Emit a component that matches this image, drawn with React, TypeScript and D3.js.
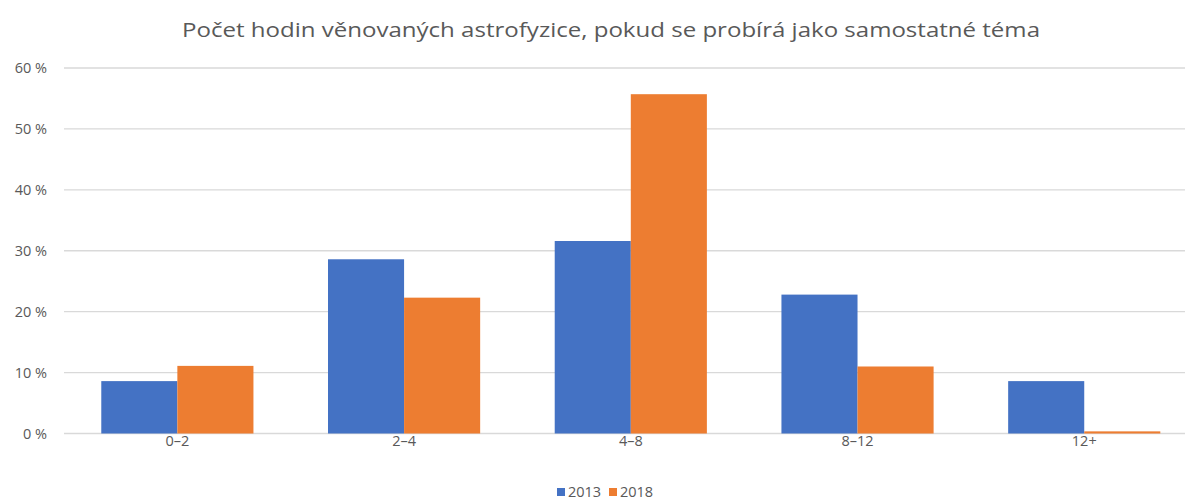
import React from 'react'
import * as d3 from 'd3'

const categories = ['0–2', '2–4', '4–8', '8–12', '12+']
const series = ['2013', '2018']
const values2013 = [8.6, 28.6, 31.6, 22.8, 8.6]
const values2018 = [11.1, 22.3, 55.7, 11.0, 0.35]
const yTicks = [0, 10, 20, 30, 40, 50, 60]
const colors = ['#4472c4', '#ed7d31']

const W = 1185
const H = 501
const margin = { top: 68, bottom: 433.5, left: 64, right: 1197.6 }

export default function App() {
	const x = d3.scaleBand().domain(categories).range([margin.left, margin.right]).paddingInner(0).paddingOuter(0)
	const inner = d3.scaleBand().domain(series).range([0, x.bandwidth()]).paddingInner(0).paddingOuter(0.49)
	const y = d3.scaleLinear().domain([0, 60]).range([margin.bottom, margin.top])
	const data = [values2013, values2018]
	const font = '"Open Sans", sans-serif'

	return (
		<svg width={W} height={H} style={{ display: 'block', position: 'absolute', left: 0, top: 0, background: '#fff' }} fontFamily={font}>
			<text x={611} y={37} textAnchor="middle" fontSize={20.5} fill="#595959" textLength={858} lengthAdjust="spacingAndGlyphs">
				Počet hodin věnovaných astrofyzice, pokud se probírá jako samostatné téma
			</text>
			{yTicks.map(t => (
				<g key={t}>
					<line x1={margin.left} x2={W} y1={y(t)} y2={y(t)} stroke="#d9d9d9" strokeWidth={1.3} />
					<text x={47} y={y(t) + 5} textAnchor="end" fontSize={14.5} fill="#595959">{t} %</text>
				</g>
			))}
			{categories.map((c, i) => (
				<g key={c}>
					{series.map((s, j) => {
						const v = data[j][i]
						return (
							<rect key={s}
								x={(x(c) as number) + (inner(s) as number)}
								y={y(v)}
								width={inner.bandwidth()}
								height={y(0) - y(v)}
								fill={colors[j]} />
						)
					})}
					<text x={(x(c) as number) + x.bandwidth() / 2} y={446} textAnchor="middle" fontSize={14.5} fill="#595959">{c}</text>
				</g>
			))}
			{series.map((s, j) => (
				<g key={s} transform={`translate(${557 + j * 52}, 0)`}>
					<rect x={0} y={488} width={8} height={8} fill={colors[j]} />
					<text x={11} y={497} fontSize={14.5} fill="#595959">{s}</text>
				</g>
			))}
		</svg>
	)
}
